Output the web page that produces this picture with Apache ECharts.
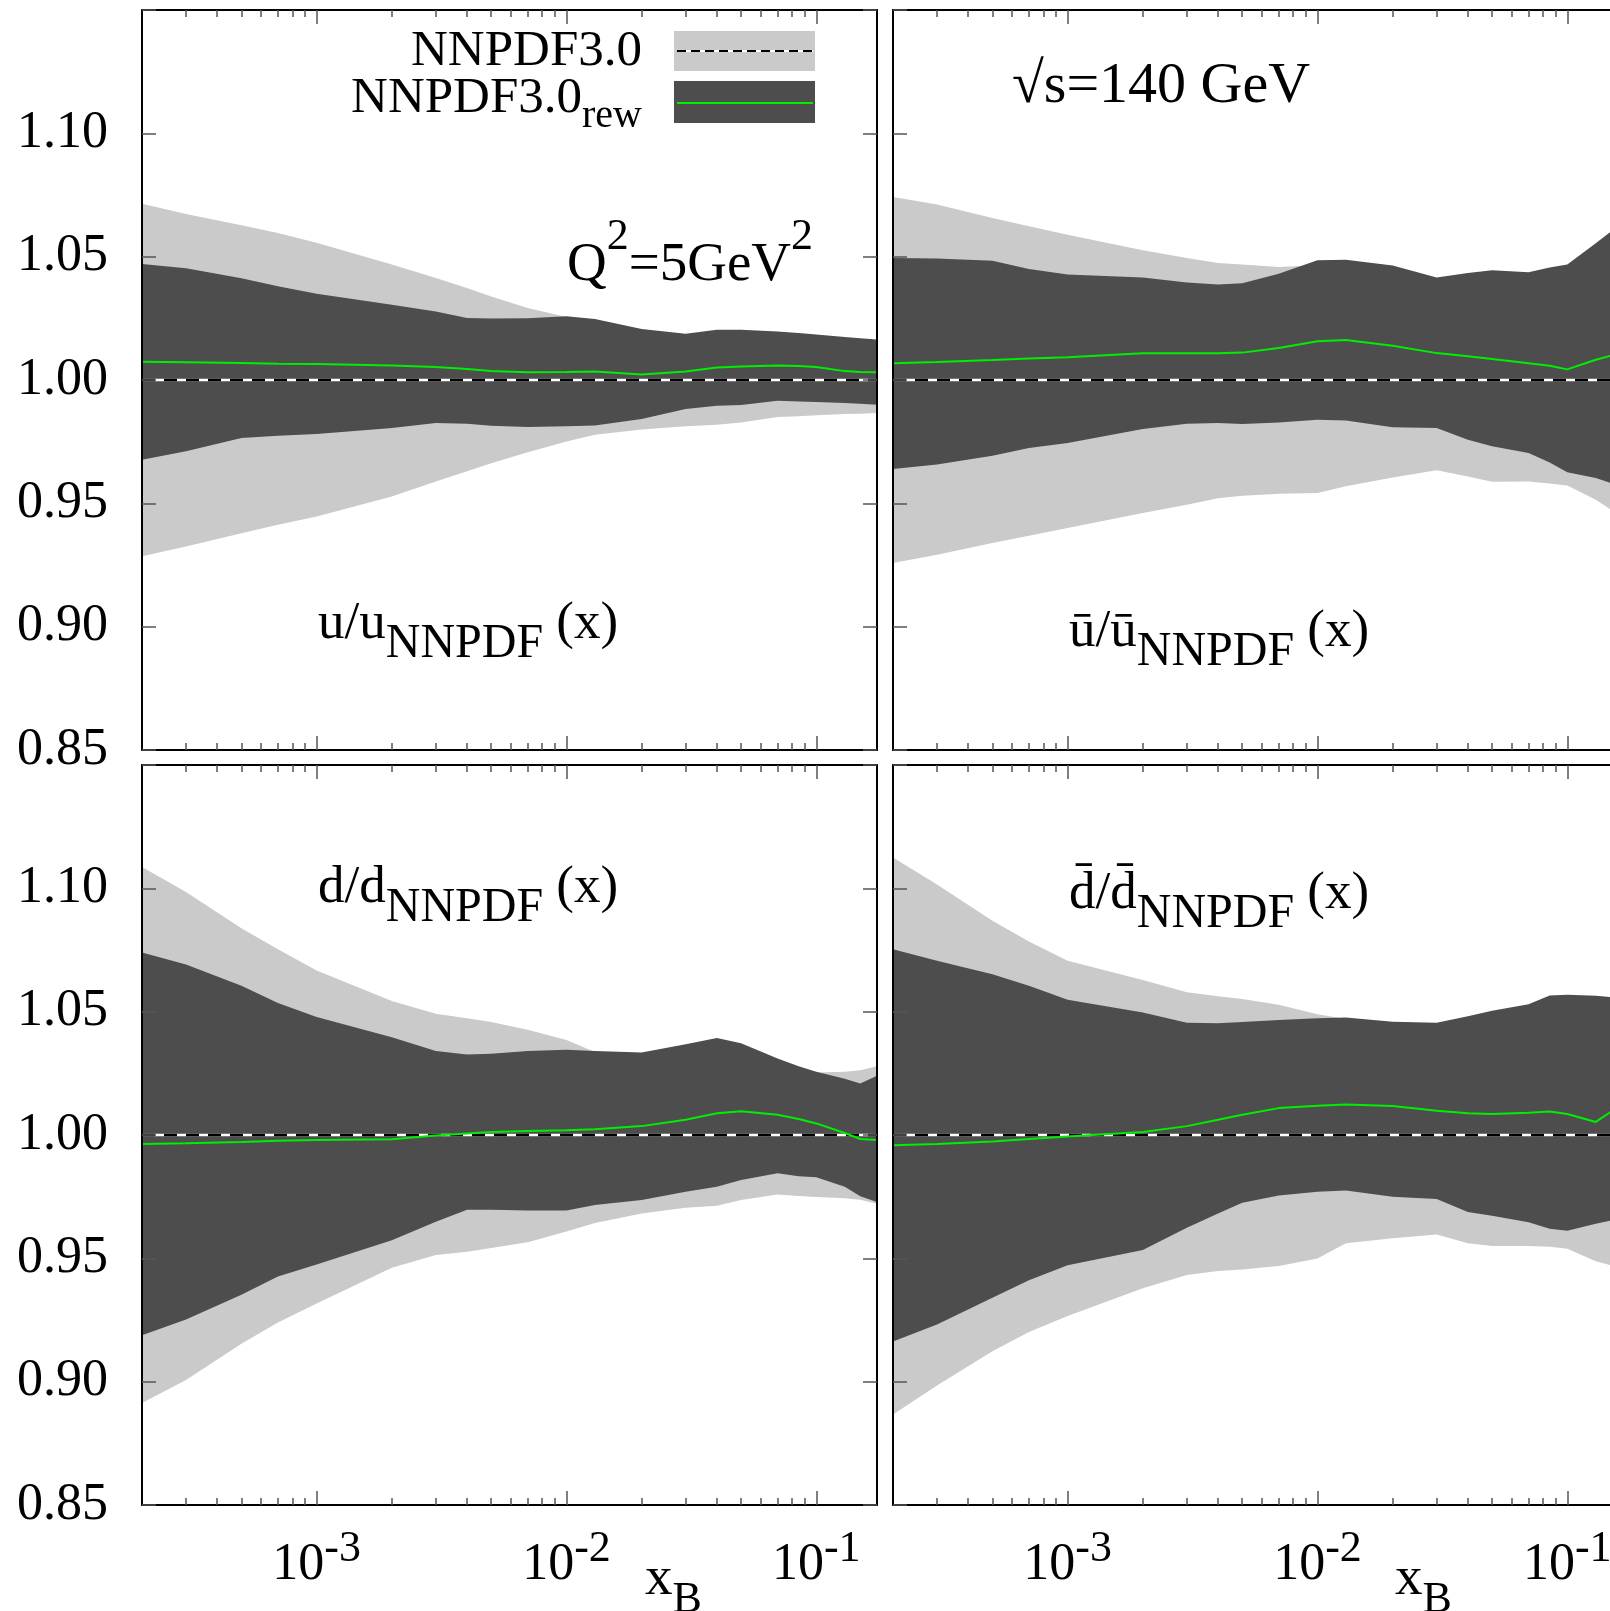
<!DOCTYPE html>
<html>
<head>
<meta charset="utf-8">
<script src="https://cdn.jsdelivr.net/npm/echarts@6/dist/echarts.min.js"></script>
<style>
  html, body { margin: 0; padding: 0; background: #fff; }
  #chart { width: 1610px; height: 1611px; }
</style>
</head>
<body>
<div id="chart"></div>
<script>
// x_B sampling points (shared by all four panels)
const xs = [2e-4, 3e-4, 5e-4, 7e-4, 1e-3, 2e-3, 3e-3, 4e-3, 5e-3, 7e-3, 1e-2, 1.3e-2,
            2e-2, 3e-2, 4e-2, 5e-2, 7e-2, 8.5e-2, 0.1, 0.13, 0.15, 0.175];

// u / u_NNPDF
const uNnpdfLo = [0.9285, 0.9325, 0.9379, 0.9413, 0.9447, 0.9528, 0.9589, 0.9630, 0.9663, 0.9707, 0.9751, 0.9778,
                  0.9799, 0.9812, 0.9819, 0.9828, 0.9850, 0.9853, 0.9857, 0.9862, 0.9863, 0.9866];
const uNnpdfHi = [1.0715, 1.0673, 1.0627, 1.0596, 1.0556, 1.0468, 1.0414, 1.0373, 1.0339, 1.0292, 1.0255, 1.0240,
                  1.0200, 1.0180, 1.0195, 1.0195, 1.0190, 1.0185, 1.0178, 1.0168, 1.0163, 1.0158];
const uRewLo = [0.9677, 0.9711, 0.9765, 0.9774, 0.9781, 0.9805, 0.9826, 0.9823, 0.9815, 0.9809, 0.9812, 0.9816,
                0.9842, 0.9882, 0.9896, 0.9899, 0.9916, 0.9913, 0.9911, 0.9907, 0.9904, 0.9900];
const uRewHi = [1.0470, 1.0453, 1.0413, 1.0380, 1.0350, 1.0305, 1.0278, 1.0251, 1.0249, 1.0250, 1.0258, 1.0247,
                1.0207, 1.0187, 1.0204, 1.0204, 1.0197, 1.0191, 1.0184, 1.0174, 1.0169, 1.0164];
const uRewMid = [1.0074, 1.0072, 1.0069, 1.0066, 1.0065, 1.0059, 1.0053, 1.0045, 1.0036, 1.0031, 1.0032, 1.0034,
                 1.0022, 1.0034, 1.0051, 1.0055, 1.0059, 1.0057, 1.0053, 1.0036, 1.0032, 1.0031];

// ubar / ubar_NNPDF
const ubNnpdfLo = [0.9258, 0.9292, 0.9339, 0.9369, 0.9400, 0.9461, 0.9494, 0.9521, 0.9531, 0.9539, 0.9542, 0.9569,
                   0.9605, 0.9634, 0.9609, 0.9588, 0.9589, 0.9580, 0.9572, 0.9515, 0.9474, 0.9400];
const ubNnpdfHi = [1.0742, 1.0711, 1.0657, 1.0623, 1.0589, 1.0526, 1.0495, 1.0474, 1.0468, 1.0458, 1.0465, 1.0468,
                   1.0444, 1.0396, 1.0414, 1.0425, 1.0417, 1.0436, 1.0448, 1.0534, 1.0583, 1.0640];
const ubRewLo = [0.9639, 0.9657, 0.9693, 0.9724, 0.9745, 0.9801, 0.9823, 0.9826, 0.9822, 0.9828, 0.9839, 0.9836,
                 0.9808, 0.9805, 0.9758, 0.9731, 0.9704, 0.9666, 0.9626, 0.9603, 0.9582, 0.9560];
const ubRewHi = [1.0495, 1.0493, 1.0483, 1.0450, 1.0428, 1.0416, 1.0395, 1.0387, 1.0392, 1.0431, 1.0485, 1.0488,
                 1.0464, 1.0416, 1.0434, 1.0445, 1.0437, 1.0456, 1.0468, 1.0554, 1.0603, 1.0660];
const ubRewMid = [1.0068, 1.0073, 1.0081, 1.0087, 1.0092, 1.0108, 1.0108, 1.0108, 1.0111, 1.0130, 1.0157, 1.0162,
                  1.0139, 1.0109, 1.0096, 1.0085, 1.0068, 1.0058, 1.0043, 1.0082, 1.0099, 1.0120];

// d / d_NNPDF
const dNnpdfLo = [0.8914, 0.9007, 0.9154, 0.9240, 0.9317, 0.9462, 0.9514, 0.9527, 0.9542, 0.9565, 0.9609, 0.9643,
                  0.9682, 0.9705, 0.9713, 0.9736, 0.9759, 0.9753, 0.9749, 0.9744, 0.9738, 0.9721];
const dNnpdfHi = [1.1086, 1.0985, 1.0838, 1.0753, 1.0667, 1.0543, 1.0492, 1.0473, 1.0458, 1.0427, 1.0385, 1.0336,
                  1.0315, 1.0300, 1.0290, 1.0280, 1.0270, 1.0262, 1.0253, 1.0256, 1.0262, 1.0279];
const dRewLo = [0.9188, 0.9252, 0.9352, 0.9426, 0.9475, 0.9573, 0.9648, 0.9697, 0.9697, 0.9694, 0.9694, 0.9716,
                0.9736, 0.9770, 0.9790, 0.9818, 0.9845, 0.9833, 0.9829, 0.9790, 0.9752, 0.9728];
const dRewHi = [1.0740, 1.0691, 1.0605, 1.0535, 1.0478, 1.0396, 1.0341, 1.0326, 1.0329, 1.0341, 1.0346, 1.0341,
                1.0334, 1.0368, 1.0393, 1.0372, 1.0310, 1.0279, 1.0256, 1.0228, 1.0209, 1.0240];
const dRewMid = [0.9964, 0.9967, 0.9972, 0.9977, 0.9980, 0.9983, 0.9998, 1.0006, 1.0012, 1.0016, 1.0019, 1.0023,
                 1.0036, 1.0062, 1.0088, 1.0096, 1.0082, 1.0065, 1.0047, 1.0008, 0.9984, 0.9980];

// dbar / dbar_NNPDF
const dbNnpdfLo = [0.8867, 0.8984, 0.9123, 0.9201, 0.9266, 0.9379, 0.9432, 0.9449, 0.9455, 0.9469, 0.9499, 0.9561,
                   0.9581, 0.9597, 0.9561, 0.9550, 0.9550, 0.9547, 0.9539, 0.9488, 0.9472, 0.9440];
const dbNnpdfHi = [1.1125, 1.1016, 1.0869, 1.0784, 1.0706, 1.0628, 1.0579, 1.0563, 1.0551, 1.0528, 1.0490, 1.0470,
                   1.0440, 1.0435, 1.0461, 1.0484, 1.0510, 1.0546, 1.0549, 1.0545, 1.0539, 1.0535];
const dbRewLo = [0.9163, 0.9232, 0.9340, 0.9411, 0.9472, 0.9534, 0.9624, 0.9682, 0.9725, 0.9755, 0.9770, 0.9775,
                 0.9750, 0.9741, 0.9688, 0.9673, 0.9646, 0.9620, 0.9612, 0.9640, 0.9654, 0.9665];
const dbRewHi = [1.0753, 1.0706, 1.0652, 1.0605, 1.0548, 1.0497, 1.0455, 1.0453, 1.0458, 1.0466, 1.0473, 1.0476,
                 1.0459, 1.0455, 1.0481, 1.0504, 1.0530, 1.0566, 1.0569, 1.0565, 1.0559, 1.0555];
const dbRewMid = [0.9958, 0.9964, 0.9974, 0.9984, 0.9994, 1.0012, 1.0036, 1.0062, 1.0082, 1.0109, 1.0119, 1.0124,
                  1.0118, 1.0098, 1.0088, 1.0085, 1.0090, 1.0095, 1.0085, 1.0053, 1.0095, 1.0130];

// ticks
const majorTicks = [1e-3, 1e-2, 1e-1];
const minorTicks = [3e-4, 4e-4, 5e-4, 6e-4, 7e-4, 8e-4, 9e-4,
                    2e-3, 3e-3, 4e-3, 5e-3, 6e-3, 7e-3, 8e-3, 9e-3,
                    2e-2, 3e-2, 4e-2, 5e-2, 6e-2, 7e-2, 8e-2, 9e-2];
const baseRatio = 1.0;

const FONT = "'Liberation Serif', 'Times New Roman', serif";
const LIGHT = '#cacaca';
const DARK = '#4d4d4d';
const GREEN = '#00ee00';
const xMin = 2e-4, xMax = 0.175;

const panels = [
  { left: 142, top: 10,  light: [uNnpdfLo, uNnpdfHi],  dark: [uRewLo, uRewHi],   mid: uRewMid,  xLab: false, yLab: true },
  { left: 893, top: 10,  light: [ubNnpdfLo, ubNnpdfHi], dark: [ubRewLo, ubRewHi], mid: ubRewMid, xLab: false, yLab: false },
  { left: 142, top: 765, light: [dNnpdfLo, dNnpdfHi],  dark: [dRewLo, dRewHi],   mid: dRewMid,  xLab: true,  yLab: true },
  { left: 893, top: 765, light: [dbNnpdfLo, dbNnpdfHi], dark: [dbRewLo, dbRewHi], mid: dbRewMid, xLab: true,  yLab: false }
];

const tickStyle = { color: '#555', width: 1.5 };

function makeXAxis(gi, position, minor, labels) {
  return {
    type: 'log', logBase: 10, gridIndex: gi, position: position, min: xMin, max: xMax, z: 10,
    axisLine: { show: !minor, onZero: false, lineStyle: { color: '#000', width: 2 } },
    axisTick: { show: true, inside: true, length: minor ? 7 : 14,
                customValues: minor ? minorTicks : majorTicks, lineStyle: tickStyle },
    axisLabel: labels ? {
      show: true, customValues: majorTicks, margin: 22,
      formatter: v => '{b|10}{s|' + Math.round(Math.log10(v)) + '}',
      rich: {
        b: { fontFamily: FONT, fontSize: 52, lineHeight: 52, color: '#000', verticalAlign: 'top', padding: [12, 0, 0, 0] },
        s: { fontFamily: FONT, fontSize: 44, lineHeight: 44, color: '#000', verticalAlign: 'top' }
      }
    } : { show: false },
    splitLine: { show: false }
  };
}

function makeYAxis(gi, position, labels) {
  return {
    type: 'value', gridIndex: gi, position: position, min: 0.85, max: 1.15, interval: 0.05, z: 10,
    axisLine: { show: true, onZero: false, lineStyle: { color: '#000', width: 2 } },
    axisTick: { show: true, inside: true, length: 14, lineStyle: tickStyle },
    axisLabel: labels ? {
      show: true, margin: 34, fontFamily: FONT, fontSize: 52, color: '#000',
      formatter: v => (v > 1.12 ? '' : v.toFixed(2))
    } : { show: false },
    splitLine: { show: false }
  };
}

// filled band between lo and hi, drawn as one polygon through the axes
function bandSeries(gi, lo, hi, color) {
  return {
    type: 'custom', xAxisIndex: gi * 4, yAxisIndex: gi * 2, silent: true, animation: false,
    data: xs.map((x, i) => [x, lo[i], hi[i]]),
    renderItem: function (params, api) {
      if (params.dataIndex !== 0) return null;
      const upper = xs.map((x, i) => api.coord([x, hi[i]]));
      const lower = xs.map((x, i) => api.coord([x, lo[i]])).reverse();
      return { type: 'polygon', shape: { points: upper.concat(lower) }, style: { fill: color } };
    }
  };
}

const grid = [], xAxis = [], yAxis = [], series = [];
panels.forEach((p, gi) => {
  // right-hand panels run past the page edge, as in the original crop
  grid.push({ left: p.left, top: p.top, width: 735, height: 740, outerBoundsMode: 'none', containLabel: false });
  xAxis.push(makeXAxis(gi, 'bottom', false, p.xLab));
  xAxis.push(makeXAxis(gi, 'bottom', true, false));
  xAxis.push(makeXAxis(gi, 'top', false, false));
  xAxis.push(makeXAxis(gi, 'top', true, false));
  yAxis.push(makeYAxis(gi, 'left', p.yLab));
  yAxis.push(makeYAxis(gi, 'right', false));

  series.push(bandSeries(gi, p.light[0], p.light[1], LIGHT));
  series.push(bandSeries(gi, p.dark[0], p.dark[1], DARK));
  const refData = [[xs[0], baseRatio], [xs[xs.length - 1], baseRatio]];
  series.push({ type: 'line', xAxisIndex: gi * 4, yAxisIndex: gi * 2, data: refData, showSymbol: false,
                silent: true, animation: false, lineStyle: { color: '#fff', width: 2.5 } });
  series.push({ type: 'line', xAxisIndex: gi * 4, yAxisIndex: gi * 2, data: refData, showSymbol: false,
                silent: true, animation: false, lineStyle: { color: '#000', width: 2.5, type: [13, 9] } });
  series.push({ type: 'line', xAxisIndex: gi * 4, yAxisIndex: gi * 2, showSymbol: false, silent: true,
                animation: false, data: xs.map((x, i) => [x, p.mid[i]]),
                lineStyle: { color: GREEN, width: 2 } });
});

// rich text label placed by its baseline; parts: [text, fontSize, baselineShift]
function label(x, baseline, align, parts) {
  const k = 0.82;
  let B = 0;
  parts.forEach(pt => { B = Math.max(B, k * pt[1] - pt[2]); });
  const rich = {};
  let text = '';
  parts.forEach((pt, i) => {
    const pad = B + pt[2] - k * pt[1];
    rich['p' + i] = { fontFamily: FONT, fontSize: pt[1], lineHeight: pt[1], fill: '#000',
                      verticalAlign: 'top', padding: [pad, 0, 0, 0] };
    text += '{p' + i + '|' + pt[0] + '}';
  });
  return { type: 'text', z: 100, silent: true,
           style: { text: text, rich: rich, x: x, y: baseline - B, align: align, verticalAlign: 'top' } };
}

const graphic = [
  // legend
  { type: 'rect', z: 100, shape: { x: 674, y: 31, width: 141, height: 40 }, style: { fill: LIGHT } },
  { type: 'line', z: 101, shape: { x1: 677, y1: 51, x2: 813, y2: 51 }, style: { stroke: '#fff', lineWidth: 2 } },
  { type: 'line', z: 102, shape: { x1: 677, y1: 51, x2: 813, y2: 51 }, style: { stroke: '#000', lineWidth: 2, lineDash: [9, 5] } },
  { type: 'rect', z: 100, shape: { x: 674, y: 81, width: 141, height: 42 }, style: { fill: DARK } },
  { type: 'line', z: 101, shape: { x1: 677, y1: 103, x2: 813, y2: 103 }, style: { stroke: GREEN, lineWidth: 2 } },
  label(642, 68, 'right', [['NNPDF3.0', 51, 0]]),
  label(642, 115, 'right', [['NNPDF3.0', 51, 0], ['rew', 40, 14]]),
  // panel annotations
  label(567, 283, 'left', [['Q', 55, 0], ['2', 44, -31], ['=5GeV', 55, 0], ['2', 44, -31]]),
  label(1012, 105, 'left', [['\u221As=140 GeV', 58, 0]]),
  label(318, 641, 'left', [['u/u', 53, 0], ['NNPDF', 48, 19], [' (x)', 53, 0]]),
  label(1069, 649, 'left', [['\u016B/\u016B', 53, 0], ['NNPDF', 48, 19], [' (x)', 53, 0]]),
  label(318, 905, 'left', [['d/d', 53, 0], ['NNPDF', 48, 19], [' (x)', 53, 0]]),
  label(1069, 911, 'left', [['d\u0304/d\u0304', 53, 0], ['NNPDF', 48, 19], [' (x)', 53, 0]]),
  label(645, 1597, 'left', [['x', 55, 0], ['B', 44, 18]]),
  label(1395, 1597, 'left', [['x', 55, 0], ['B', 44, 18]])
];

const chart = echarts.init(document.getElementById('chart'), null, { renderer: 'canvas', width: 1610, height: 1611 });
chart.setOption({
  animation: false,
  backgroundColor: '#fff',
  grid: grid,
  xAxis: xAxis,
  yAxis: yAxis,
  series: series,
  graphic: graphic
});
</script>
</body>
</html>
